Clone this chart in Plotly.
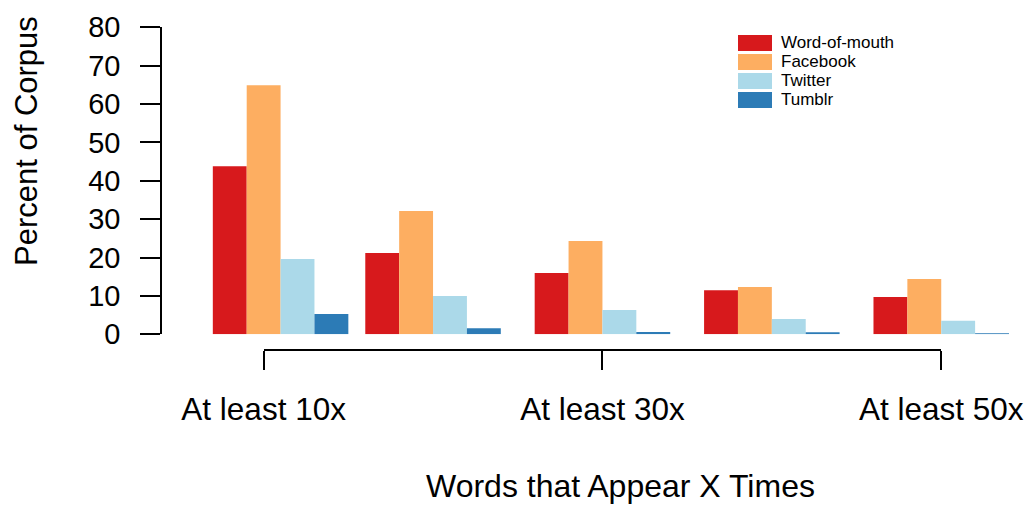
import plotly.graph_objects as go

# ---- data ----
groups = ["At least 10x", "At least 20x", "At least 30x", "At least 40x", "At least 50x"]
series = ["Word-of-mouth", "Facebook", "Twitter", "Tumblr"]
word_of_mouth = [43.8, 21.2, 16.0, 11.5, 9.7]
facebook = [64.9, 32.1, 24.3, 12.3, 14.4]
twitter = [19.6, 10.0, 6.3, 4.0, 3.5]
tumblr = [5.3, 1.6, 0.6, 0.35, 0.15]
tick_labels = ["At least 10x", "At least 30x", "At least 50x"]
y_ticks = [0, 10, 20, 30, 40, 50, 60, 70, 80]

values = [word_of_mouth, facebook, twitter, tumblr]
colors = ["#D7191C", "#FDAE61", "#ABD9E9", "#2C7BB6"]

W, H = 1031, 506
FONT = "Liberation Sans, Arial, Helvetica, sans-serif"

# layout geometry (pixels)
x0_px = 162.0          # y-axis line
unit_px = 33.88        # width of one bar
def px_x(u):
    return x0_px + u * unit_px

# group centres in bar units (R barplot style, first group nudged)
centers = [3 + 5 * k for k in range(len(groups))]
centers[0] += 0.5
tick_pos = [3, 13, 23]

fig = go.Figure()
# invisible trace to carry the lower category axis (added first so it sits underneath)
fig.add_trace(go.Scatter(x=[tick_pos[0], tick_pos[-1]], y=[0, 0], xaxis="x2", yaxis="y",
                         mode="markers", marker=dict(opacity=0), hoverinfo="skip",
                         showlegend=False))
for i, (name, vals) in enumerate(zip(series, values)):
    fig.add_trace(go.Bar(
        x=centers, y=vals, name=name,
        width=1, offset=i - 2,
        marker=dict(color=colors[i], line=dict(width=0)),
        showlegend=False,
    ))

y_bot, y_top = 334.3, 27.3
fig.update_layout(
    template="none",
    width=W, height=H,
    margin=dict(l=0, r=0, t=0, b=0, autoexpand=False),
    paper_bgcolor="white", plot_bgcolor="rgba(0,0,0,0)",
    barmode="overlay",
    font=dict(family=FONT, color="black"),
    xaxis=dict(domain=[x0_px / W, 1], range=[0, (W - x0_px) / unit_px],
               visible=False, fixedrange=True, automargin=False),
    xaxis2=dict(domain=[px_x(tick_pos[0]) / W, px_x(tick_pos[-1]) / W],
                range=[tick_pos[0], tick_pos[-1]], anchor="free",
                position=(H - 350) / H,
                tickvals=tick_pos, ticktext=tick_labels,
                ticks="outside", ticklen=19, tickwidth=1.5, tickcolor="black",
                showline=True, linewidth=1.5, linecolor="black",
                showgrid=False, zeroline=False, automargin=False,
                tickfont=dict(size=31.5, family=FONT, color="black"),
                ticklabelstandoff=12),
    yaxis=dict(domain=[(H - y_bot) / H, (H - y_top) / H], range=[0, 80],
               tickvals=y_ticks, ticks="outside", ticklen=20, tickwidth=1.5,
               tickcolor="black", showline=True, linewidth=1.5, linecolor="black",
               showgrid=False, zeroline=False, automargin=False,
               tickfont=dict(size=29, family=FONT, color="black"),
               ticklabelstandoff=14),
)

# axis titles
fig.add_annotation(text="Percent of Corpus", x=27 / W, y=1 - 141 / H, xref="paper", yref="paper",
                   textangle=-90, showarrow=False, xanchor="center", yanchor="middle",
                   font=dict(size=31, family=FONT, color="black"))
fig.add_annotation(text="Words that Appear X Times", x=620 / W, y=1 - 486 / H, xref="paper", yref="paper",
                   showarrow=False, xanchor="center", yanchor="middle",
                   font=dict(size=32, family=FONT, color="black"))

# legend (R style boxes)
lx0, lx1 = 738, 772
for i, name in enumerate(series):
    top = 35 + 19 * i
    fig.add_shape(type="rect", xref="paper", yref="paper",
                  x0=lx0 / W, x1=lx1 / W, y0=1 - (top + 16) / H, y1=1 - top / H,
                  fillcolor=colors[i], line=dict(width=0))
    fig.add_annotation(text=name, x=779 / W, y=1 - (top + 8) / H, xref="paper", yref="paper",
                       showarrow=False, xanchor="left", yanchor="middle",
                       font=dict(size=17, family=FONT, color="black"))

fig.write_html("out.html", config={"displayModeBar": False},
               post_script="document.body.style.margin='0';document.body.style.overflow='hidden';")
